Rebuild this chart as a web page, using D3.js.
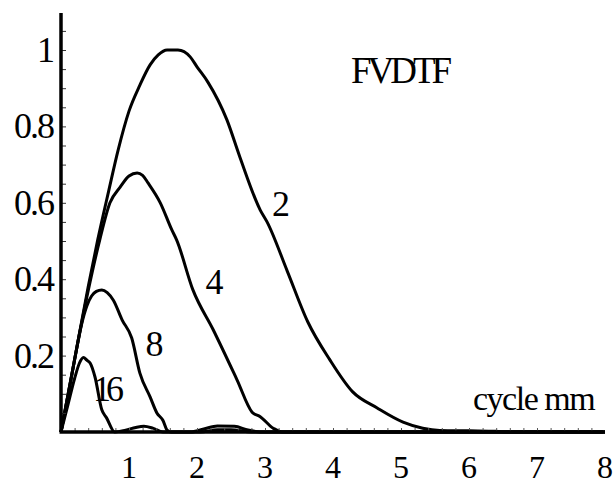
<!DOCTYPE html>
<html>
<head>
<meta charset="utf-8">
<script src="https://cdn.jsdelivr.net/npm/d3@7"></script>
</head>
<body style="margin:0">
<div id="my_dataviz"></div>
<script>

// curves: [cycle mm, FVDTF]
var curve_2 = [
    [0, 0], [0.2, 0.19], [0.4, 0.38], [0.54, 0.503], [0.7, 0.63], [0.84, 0.738],
    [1.0, 0.84], [1.16, 0.908], [1.31, 0.961], [1.43, 0.987], [1.56, 1.0], [1.72, 1.0],
    [1.9, 0.982], [2.0, 0.956], [2.16, 0.916], [2.44, 0.817], [2.63, 0.72], [2.93, 0.581],
    [3.03, 0.55], [3.33, 0.42], [3.63, 0.288], [3.95, 0.19], [4.29, 0.105], [4.65, 0.063],
    [5.03, 0.026], [5.32, 0.01], [5.57, 0.004], [6.0, 0.003], [6.4, 0.002], [6.5, 0], [8, 0]
];
var curve_4 = [
    [0, 0], [0.2, 0.19], [0.4, 0.37], [0.57, 0.503], [0.72, 0.6], [0.87, 0.641], [1.0, 0.67],
    [1.12, 0.678], [1.2, 0.672], [1.28, 0.652], [1.46, 0.6], [1.63, 0.529], [1.7, 0.503],
    [1.94, 0.372], [2.24, 0.267], [2.59, 0.136], [2.81, 0.052], [2.93, 0.04], [3.12, 0.01],
    [3.25, 0], [8, 0]
];
var curve_8 = [
    [0, 0], [0.15, 0.14], [0.3, 0.28], [0.38, 0.33], [0.45, 0.356], [0.52, 0.368], [0.6, 0.372],
    [0.68, 0.365], [0.77, 0.345], [0.9, 0.293], [1.04, 0.246], [1.16, 0.154], [1.31, 0.092],
    [1.41, 0.05], [1.5, 0.03], [1.56, 0.005], [1.62, 0], [1.9, 0], [2.1, 0.008], [2.3, 0.016],
    [2.55, 0.015], [2.75, 0.005], [3.0, 0], [8, 0]
];
var curve_16 = [
    [0, 0], [0.1, 0.07], [0.2, 0.14], [0.27, 0.18], [0.33, 0.195], [0.38, 0.188], [0.43, 0.18],
    [0.5, 0.144], [0.6, 0.058], [0.67, 0.037], [0.79, 0], [0.95, 0.005], [1.1, 0.012],
    [1.22, 0.015], [1.35, 0.01], [1.5, 0], [2.05, 0], [2.3, 0.006], [2.5, 0.006], [2.8, 0], [8, 0]
];

var curve_names = ["2", "4", "8", "16"];
// where each curve number is written
var label_pos = [[3.2, 0.565], [2.22, 0.36], [1.34, 0.2], [0.66, 0.08]];

var x_ticks = [1, 2, 3, 4, 5, 6, 7, 8];
var y_ticks = [0.2, 0.4, 0.6, 0.8, 1];

var width = 615,
    height = 485;

var svg = d3.select("#my_dataviz")
    .append("svg")
    .attr("width", width)
    .attr("height", height);

var x = d3.scaleLinear()
    .domain([0, 8])
    .range([61, 605]);

var y = d3.scaleLinear()
    .domain([0, 1])
    .range([432, 50]);

// curves first, axes go on top
var line = d3.line()
    .curve(d3.curveMonotoneX)
    .x(function (d) { return x(d[0]) })
    .y(function (d) { return y(d[1]) });

svg.selectAll("myLines")
    .data([curve_2, curve_4, curve_8, curve_16])
    .enter()
    .append("path")
    .attr("d", function (d) { return line(d) })
    .attr("stroke", "black")
    .style("stroke-width", 3)
    .style("stroke-linejoin", "round")
    .style("fill", "none");

// x axis, minor ticks every 0.2
svg.append("g")
    .attr("transform", "translate(0," + y(0) + ")")
    .call(d3.axisTop(x)
        .tickValues(d3.range(1, 40).map(function (i) { return i / 5; }))
        .tickSize(4)
        .tickFormat(""))
    .call(function (g) {
        g.select(".domain").remove();
        g.selectAll(".tick line").attr("stroke", "#555").attr("stroke-width", 1);
    });

svg.append("line")
    .attr("x1", x(0) - 1.5)
    .attr("x2", x(7.97))
    .attr("y1", y(0))
    .attr("y2", y(0))
    .attr("stroke", "black")
    .attr("stroke-width", 3.5);

// y axis, minor ticks every 0.05
svg.append("g")
    .attr("transform", "translate(" + x(0) + ",0)")
    .call(d3.axisRight(y)
        .tickValues(d3.range(1, 22).map(function (i) { return i / 20; }))
        .tickSize(5)
        .tickFormat(""))
    .call(function (g) {
        g.select(".domain").remove();
        g.selectAll(".tick line").attr("stroke", "#333").attr("stroke-width", 1);
    });

svg.append("line")
    .attr("x1", x(0))
    .attr("x2", x(0))
    .attr("y1", y(0))
    .attr("y2", y(1.097))
    .attr("stroke", "black")
    .attr("stroke-width", 3.5);

// all the text, times-like
var labels = svg.append("g");

labels.selectAll("xLabels")
    .data(x_ticks)
    .enter()
    .append("text")
    .attr("x", function (d) { return x(d) })
    .attr("y", 478)
    .attr("text-anchor", "middle")
    .style("font-family", "'Liberation Serif', monospace")
    .style("font-size", "32px")
    .text(function (d) { return d; });

labels.selectAll("yLabels")
    .data(y_ticks)
    .enter()
    .append("text")
    .attr("x", 53)
    .attr("y", function (d) { return y(d) + 12 })
    .attr("text-anchor", "end")
    .style("font-family", "'Liberation Serif', monospace")
    .style("font-size", "36px")
    .style("letter-spacing", "-2px")
    .text(function (d) { return d; });

// curve numbers
labels.selectAll("curveLabels")
    .data(curve_names)
    .enter()
    .append("text")
    .attr("x", function (d, i) { return x(label_pos[i][0]) })
    .attr("y", function (d, i) { return y(label_pos[i][1]) })
    .attr("text-anchor", "middle")
    .style("font-family", "'Liberation Serif', monospace")
    .style("font-size", "36px")
    .style("letter-spacing", "-5px")
    .text(function (d) { return d; });

labels.append("text")
    .attr("x", 351)
    .attr("y", 83)
    .style("font-family", "'Liberation Serif', monospace")
    .style("font-size", "37px")
    .style("letter-spacing", "-4px")
    .text("FVDTF");

labels.append("text")
    .attr("x", 473)
    .attr("y", 410)
    .style("font-family", "'Liberation Serif', monospace")
    .style("font-size", "34px")
    .style("letter-spacing", "-1.5px")
    .text("cycle mm");

</script>
</body>
</html>
